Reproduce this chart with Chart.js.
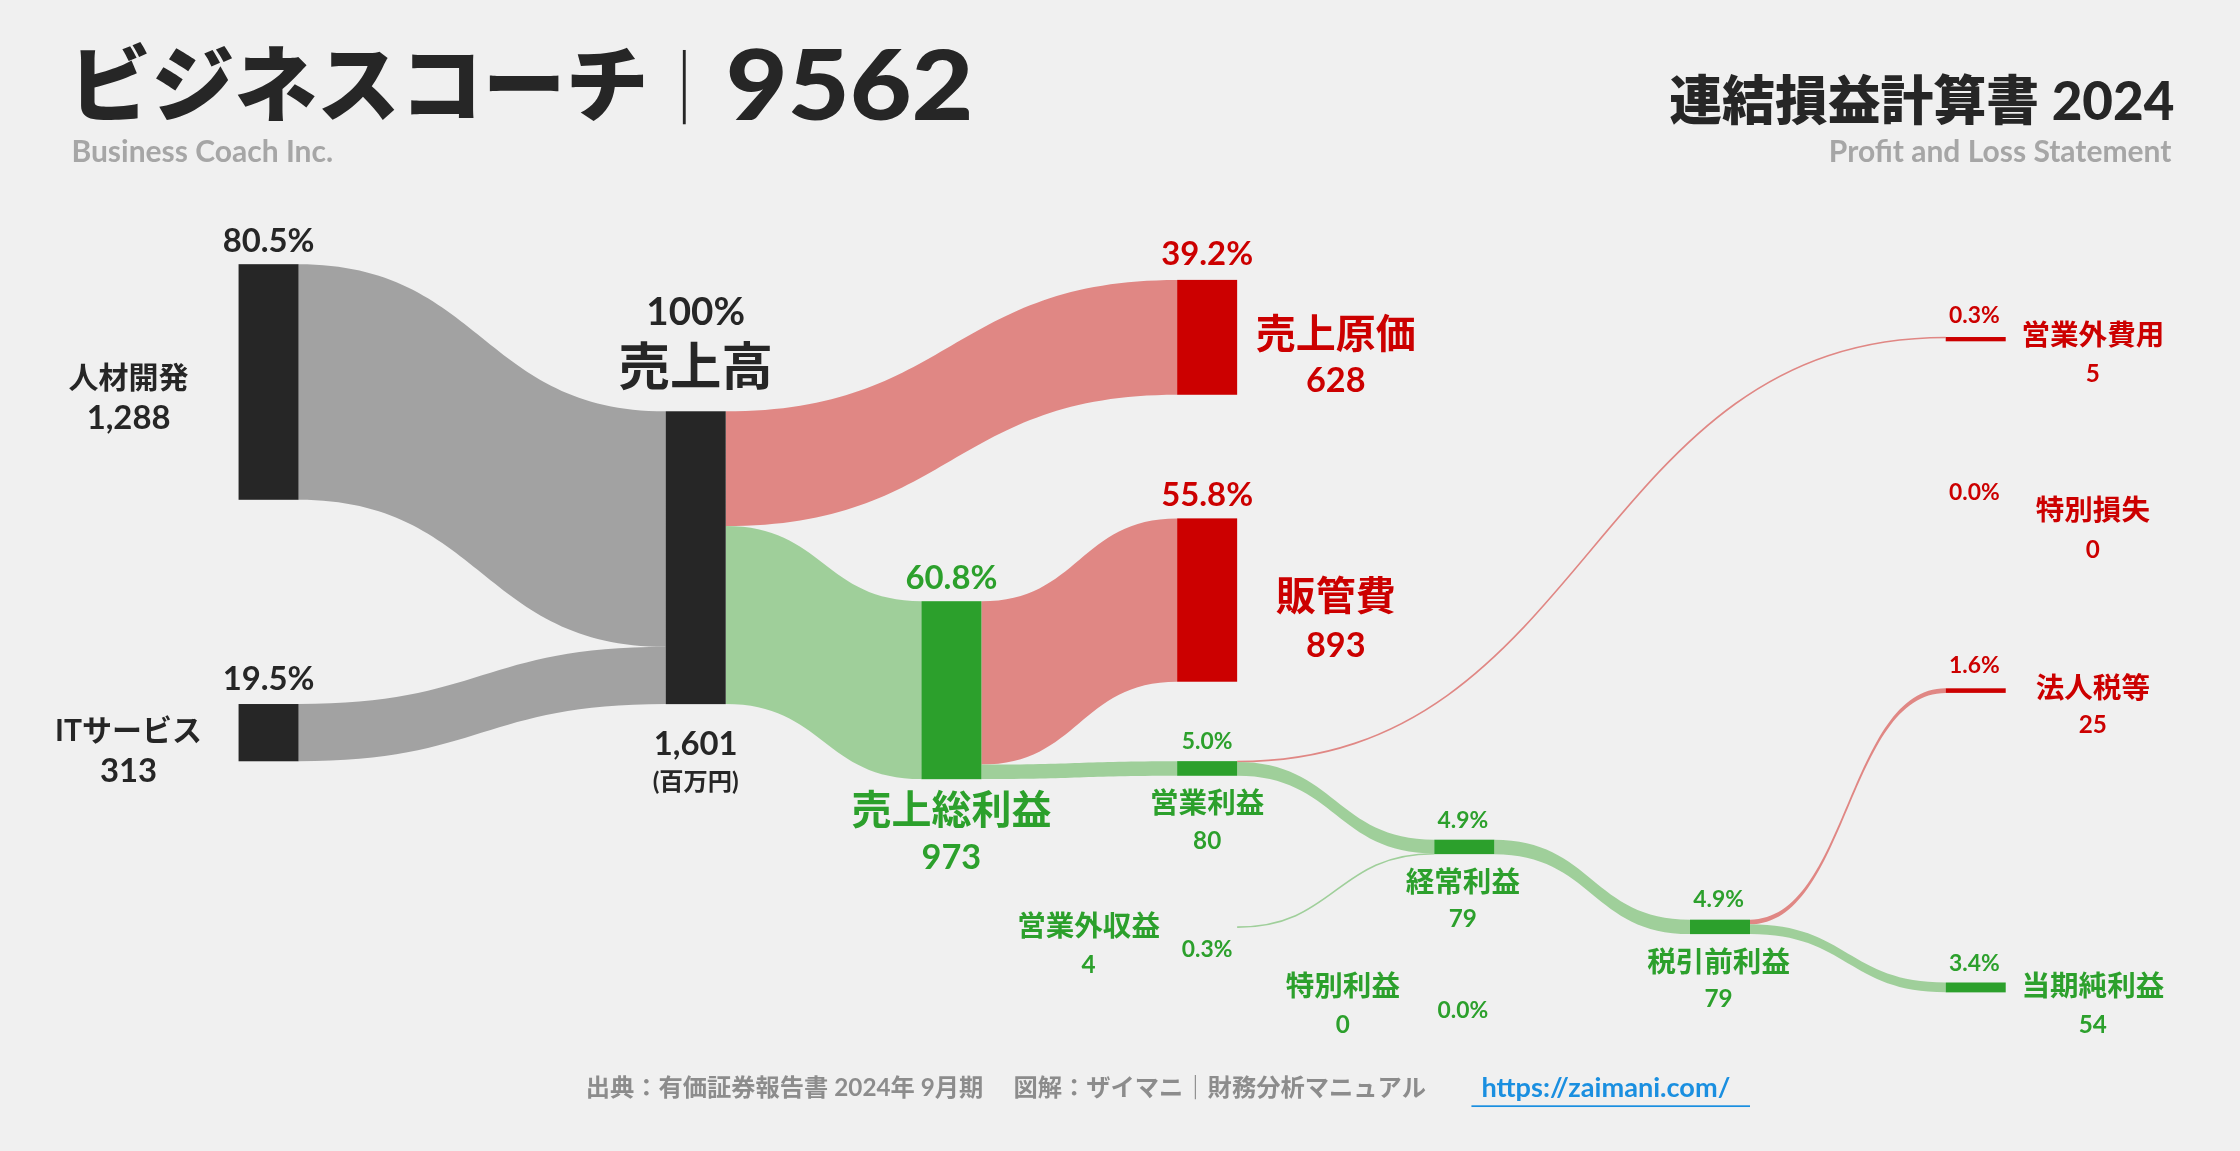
<!DOCTYPE html>
<html><head><meta charset="utf-8">
<script src="https://cdn.jsdelivr.net/npm/chart.js@4"></script>
<style>
html,body{margin:0;padding:0;background:#f0f0f0;}
#wrap{width:2240px;height:1151px;position:relative;}
</style></head>
<body><div id="wrap"><canvas id="pl-chart"></canvas></div>
<script>
// data (百万円)
const nodeNames = ["人材開発", "ITサービス", "売上高", "売上原価", "売上総利益", "販管費", "営業利益",
  "営業外費用", "特別損失", "法人税等", "営業外収益", "経常利益", "特別利益", "税引前利益", "当期純利益"];
const nodeValues = [1288, 313, 1601, 628, 973, 893, 80, 5, 0, 25, 4, 79, 0, 79, 54];
const nodePercents = ["80.5%", "19.5%", "100%", "39.2%", "60.8%", "55.8%", "5.0%",
  "0.3%", "0.0%", "1.6%", "0.3%", "4.9%", "0.0%", "4.9%", "3.4%"];
const nodeKinds = ["rev", "rev", "rev", "cost", "profit", "cost", "profit",
  "cost", "cost", "cost", "profit", "profit", "profit", "profit", "profit"];
const linkSource = [0, 1, 2, 2, 4, 4, 6, 6, 10, 11, 13, 13];
const linkTarget = [2, 2, 3, 4, 5, 6, 7, 11, 11, 13, 9, 14];
const linkValues = [1288, 313, 628, 973, 893, 80, 5, 75, 4, 79, 25, 54];

// layout (reference is drawn in a 1568 x 806 space)
const nodeX = [167, 167, 466, 824, 645, 824, 824, 1362, 1362, 1362, 824, 1004, 1004, 1183, 1362];
const nodeTop = [185, 493, 288, 196, 421, 363, 533, 236, 345, 482, 649, 588, 707, 644, 688];
const BAR_W = 42;
const PX = 205 / 1601;
const COL = {rev: "#262626", cost: "#cc0000", profit: "#2ca02c"};
const FLOW = {rev: "#a2a2a2", cost: "#e08784", profit: "#9fcf9a"};
const FONT = "Lato, 'Noto Sans CJK JP', sans-serif";

const labels = [
  {i: 0, pct: [188, 169, 23], name: [90, 265, 21], val: [90, 293, 23]},
  {i: 1, pct: [188, 476, 23], name: [90, 512, 21], val: [90, 540, 23]},
  {i: 2, pct: [487, 219, 27], name: [487, 258, 36], val: [487, 521, 23]},
  {i: 3, pct: [845, 178, 23], name: [935, 235, 28], val: [935, 267, 24]},
  {i: 4, pct: [666, 405, 23], name: [666, 568, 28], val: [666, 601, 24]},
  {i: 5, pct: [845, 347, 23], name: [935, 418, 28], val: [935, 452, 24]},
  {i: 6, pct: [845, 519, 16], name: [845, 563, 20], val: [845, 589, 17]},
  {i: 7, pct: [1382, 221, 16], name: [1465, 235, 20], val: [1465, 262, 17]},
  {i: 8, pct: [1382, 345, 16], name: [1465, 358, 20], val: [1465, 385, 17]},
  {i: 9, pct: [1382, 466, 16], name: [1465, 482, 20], val: [1465, 508, 17]},
  {i: 10, pct: [845, 665, 16], name: [762, 649, 20], val: [762, 676, 17]},
  {i: 11, pct: [1024, 575, 16], name: [1024, 618, 20], val: [1024, 644, 17]},
  {i: 12, pct: [1024, 708, 16], name: [940, 691, 20], val: [940, 718, 17]},
  {i: 13, pct: [1203, 630, 16], name: [1203, 674, 20], val: [1203, 700, 17]},
  {i: 14, pct: [1382, 675, 16], name: [1465, 691, 20], val: [1465, 718, 17]}
];
const hiddenBars = [10];

const sankeyPlugin = {
  id: "sankey",
  afterDraw(chart) {
    const ctx = chart.ctx, sx = chart.scales.x, sy = chart.scales.y;
    const X = v => sx.getPixelForValue(v), Y = v => sy.getPixelForValue(v);
    const k = chart.width / 1568;
    const outOff = nodeValues.map(() => 0), inOff = nodeValues.map(() => 0);
    linkValues.forEach((v, j) => {
      const s = linkSource[j], t = linkTarget[j];
      const h = v * PX;
      const x0 = X(nodeX[s] + BAR_W), x1 = X(nodeX[t]);
      const y0 = nodeTop[s] + outOff[s], y1 = nodeTop[t] + inOff[t];
      outOff[s] += h; inOff[t] += h;
      const m = (x0 + x1) / 2;
      const kind = nodeKinds[t] === "cost" ? "cost" : nodeKinds[t] === "profit" ? "profit" : "rev";
      ctx.save();
      if (h < 2) {
        ctx.strokeStyle = FLOW[kind];
        ctx.lineWidth = Math.max(h * k, 1.6);
        ctx.beginPath();
        ctx.moveTo(x0, Y(y0 + h / 2));
        ctx.bezierCurveTo(m, Y(y0 + h / 2), m, Y(y1 + h / 2), x1, Y(y1 + h / 2));
        ctx.stroke();
      } else {
        ctx.fillStyle = FLOW[kind];
        ctx.beginPath();
        ctx.moveTo(x0, Y(y0));
        ctx.bezierCurveTo(m, Y(y0), m, Y(y1), x1, Y(y1));
        ctx.lineTo(x1, Y(y1 + h));
        ctx.bezierCurveTo(m, Y(y1 + h), m, Y(y0 + h), x0, Y(y0 + h));
        ctx.closePath();
        ctx.fill();
      }
      ctx.restore();
    });
    nodeValues.forEach((v, i) => {
      if (v === 0 || hiddenBars.includes(i)) return;
      const h = Math.max(v * PX, 3);
      ctx.fillStyle = COL[nodeKinds[i]];
      ctx.fillRect(X(nodeX[i]), Y(nodeTop[i]), BAR_W * k, h * k);
    });
    ctx.textAlign = "center";
    ctx.textBaseline = "middle";
    const txt = (s, p, color, w) => {
      ctx.font = (w || "bold") + " " + (p[2] * k) + "px " + FONT;
      ctx.fillStyle = color;
      ctx.fillText(s, X(p[0]), Y(p[1]));
    };
    labels.forEach(l => {
      const c = COL[nodeKinds[l.i]];
      txt(nodePercents[l.i], l.pct, c);
      txt(nodeNames[l.i], l.name, c);
      txt(nodeValues[l.i].toLocaleString("en-US"), l.val, c);
    });
    txt("(百万円)", [487, 548, 17], "#262626");
    ctx.textAlign = "left";
    txt("ビジネスコーチ", [48, 62, 58], "#262626", "900");
    ctx.fillStyle = "#262626";
    ctx.fillRect(X(478), Y(35), 2 * k, 52 * k);
    ctx.save();
    ctx.translate(X(508), Y(62));
    ctx.scale(1.1, 1);
    ctx.font = "900 " + (68 * k) + "px " + FONT;
    ctx.fillText("9562", 0, 0);
    ctx.restore();
    txt("Business Coach Inc.", [50, 107, 21], "#a6a6a6");
    ctx.textAlign = "right";
    txt("連結損益計算書 2024", [1522, 72, 37], "#262626", "900");
    txt("Profit and Loss Statement", [1520, 107, 21], "#a6a6a6");
    ctx.textAlign = "left";
    txt("出典：有価証券報告書 2024年 9月期　 図解：ザイマニ｜財務分析マニュアル", [410, 762, 17], "#8c8c8c");
    txt("https://zaimani.com/", [1037, 762, 19], "#1a8fe0");
    ctx.fillStyle = "#1a8fe0";
    ctx.fillRect(X(1030), Y(774), 195 * k, 1.2 * k);
  }
};

new Chart("pl-chart", {
  type: "scatter",
  data: {datasets: [{data: [], pointRadius: 0}]},
  options: {
    responsive: true,
    maintainAspectRatio: false,
    animation: false,
    devicePixelRatio: 1,
    layout: {padding: 0},
    plugins: {legend: {display: false}, tooltip: {enabled: false}},
    scales: {
      x: {type: "linear", min: 0, max: 1568, display: false},
      y: {type: "linear", min: 0, max: 806, reverse: true, display: false}
    }
  },
  plugins: [sankeyPlugin]
});
</script></body></html>
